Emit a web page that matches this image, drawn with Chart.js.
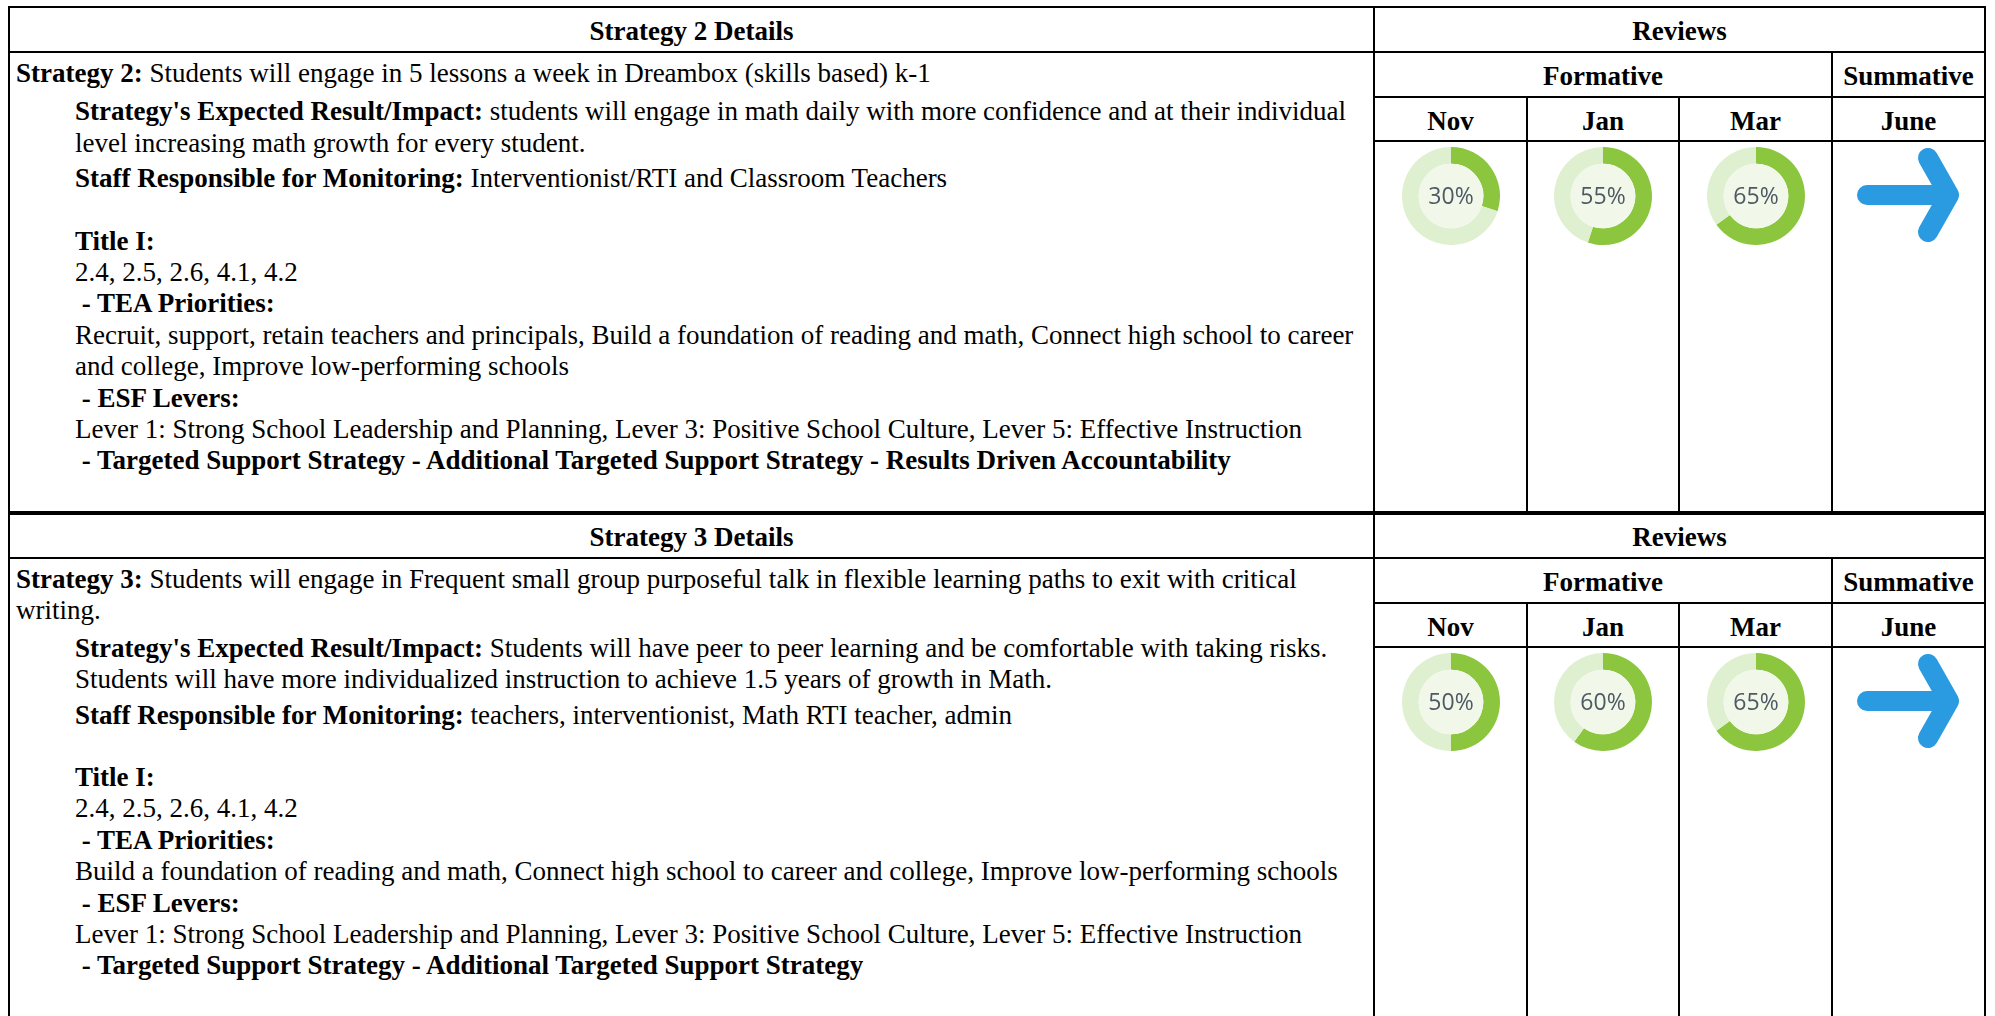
<!DOCTYPE html>
<html>
<head>
<meta charset="utf-8">
<script src="https://cdn.jsdelivr.net/npm/chart.js@4/dist/chart.umd.min.js"></script>
<style>
  html,body{margin:0;padding:0;background:#fff;}
  #root{position:relative;width:1995px;height:1016px;overflow:hidden;background:#fff;
        font-family:"Liberation Serif","Times New Roman",serif;color:#000;}
  .ln{position:absolute;background:#000;}
  .hd{position:absolute;display:flex;align-items:center;justify-content:center;box-sizing:border-box;
      padding-top:4px;font-weight:bold;font-size:27px;white-space:nowrap;}
  .body{position:absolute;font-size:27px;line-height:31.4px;white-space:nowrap;}
  .ind{margin-left:59px;}
  .donut{position:absolute;width:98px;height:98px;}
</style>
</head>
<body>
<div id="root"></div>
<script>
// ---------- data ----------
const formativeMonths = ['Nov', 'Jan', 'Mar'];
const summativeMonth = 'June';
const strategy2Progress = [30, 55, 65];
const strategy3Progress = [50, 60, 65];

const strategy2Title = 'Strategy 2 Details';
const strategy3Title = 'Strategy 3 Details';

// ---------- geometry ----------
const root = document.getElementById('root');
const L = 9, D = 1374, R = 1985;
const colX = [1374, 1527, 1679, 1832, 1985];

function hline(x1, x2, y, w) {
  const d = document.createElement('div'); d.className = 'ln';
  d.style.left = (x1 - 1) + 'px'; d.style.width = (x2 - x1 + 2) + 'px';
  d.style.top = (y - w / 2) + 'px'; d.style.height = w + 'px';
  root.appendChild(d);
}
function vline(x, y1, y2, w) {
  const d = document.createElement('div'); d.className = 'ln';
  d.style.left = (x - w / 2) + 'px'; d.style.width = w + 'px';
  d.style.top = y1 + 'px'; d.style.height = (y2 - y1) + 'px';
  root.appendChild(d);
}
function header(text, x1, x2, y1, y2) {
  const d = document.createElement('div'); d.className = 'hd';
  d.style.left = x1 + 'px'; d.style.width = (x2 - x1) + 'px';
  d.style.top = y1 + 'px'; d.style.height = (y2 - y1) + 'px';
  d.textContent = text;
  root.appendChild(d);
}

const green = '#8cc63f', lightRing = '#dff0d1', innerFill = '#f1f8ea';

const centerPlugin = {
  id: 'centerFill',
  afterDatasetsDraw(chart) {
    const arc = chart.getDatasetMeta(0).data[0];
    if (!arc) return;
    const ctx = chart.ctx;
    const p = arc.getProps(['x', 'y', 'innerRadius'], true);
    ctx.save();
    ctx.beginPath();
    ctx.arc(p.x, p.y, p.innerRadius, 0, Math.PI * 2);
    ctx.fillStyle = innerFill;
    ctx.fill();
    ctx.fillStyle = '#4f5964';
    ctx.font = '23px "Open Sans", "DejaVu Sans", sans-serif';
    ctx.textAlign = 'center';
    ctx.textBaseline = 'middle';
    ctx.fillText(chart.data.datasets[0].data[0] + '%', p.x, p.y + 1);
    ctx.restore();
  }
};

function donut(cx, cy, value) {
  const wrap = document.createElement('div'); wrap.className = 'donut';
  wrap.style.left = (cx - 49) + 'px'; wrap.style.top = (cy - 49) + 'px';
  const c = document.createElement('canvas'); c.width = 98; c.height = 98;
  wrap.appendChild(c); root.appendChild(wrap);
  new Chart(c, {
    type: 'doughnut',
    data: {
      labels: ['Progress', 'Remaining'],
      datasets: [{ data: [value, 100 - value], backgroundColor: [green, lightRing],
                   borderWidth: 0, hoverOffset: 0 }]
    },
    options: {
      responsive: false, animation: false, cutout: '66%',
      layout: { padding: 0 },
      plugins: { legend: { display: false }, tooltip: { enabled: false } }
    },
    plugins: [centerPlugin]
  });
}

function arrow(cx, cy) {
  const ns = 'http://www.w3.org/2000/svg';
  const s = document.createElementNS(ns, 'svg');
  s.setAttribute('width', 140); s.setAttribute('height', 120);
  s.style.position = 'absolute';
  s.style.left = (cx - 70) + 'px'; s.style.top = (cy - 60) + 'px';
  const p = document.createElementNS(ns, 'path');
  p.setAttribute('d', 'M 28 59 L 110 59 M 89 22 L 110 59 L 89 96');
  p.setAttribute('stroke', '#2a9be1'); p.setAttribute('stroke-width', '20');
  p.setAttribute('fill', 'none'); p.setAttribute('stroke-linecap', 'round');
  p.setAttribute('stroke-linejoin', 'round');
  s.appendChild(p); root.appendChild(s);
}

function section(top, bottom, title, progress, bodyHtml) {
  const r1 = top + 45, r2 = top + 90, r3 = top + 134;
  hline(L, R, top, top < 20 ? 2 : 4);
  hline(L, R, r1, 2);
  hline(D, R, r2, 2);
  hline(D, R, r3, 2);
  vline(L, top, bottom, 2);
  vline(D, top, bottom, 2);
  vline(R, top, bottom, 2);
  vline(colX[3], r1, bottom, 2);
  vline(colX[1], r2, bottom, 2);
  vline(colX[2], r2, bottom, 2);
  header(title, L, D, top, r1);
  header('Reviews', D, R, top, r1);
  header('Formative', D, colX[3], r1, r2);
  header('Summative', colX[3], R, r1, r2);
  formativeMonths.forEach((m, i) => header(m, colX[i], colX[i + 1], r2, r3));
  header(summativeMonth, colX[3], R, r2, r3);
  const cy = r3 + 55;
  progress.forEach((v, i) => donut((colX[i] + colX[i + 1]) / 2, cy, v));
  arrow((colX[3] + colX[4]) / 2, cy);
  const b = document.createElement('div'); b.className = 'body';
  b.style.left = '16px'; b.style.top = (r1 + 6) + 'px';
  b.innerHTML = bodyHtml;
  root.appendChild(b);
}

const body2 = `
<div><b>Strategy 2:</b> Students will engage in 5 lessons a week in Dreambox (skills based) k-1</div>
<div class="ind" style="margin-top:7px"><b>Strategy's Expected Result/Impact:</b> students will engage in math daily with more confidence and at their individual<br>level increasing math growth for every student.</div>
<div class="ind" style="margin-top:4px"><b>Staff Responsible for Monitoring:</b> Interventionist/RTI and Classroom Teachers</div>
<div class="ind" style="margin-top:31px"><b>Title I:</b></div>
<div class="ind">2.4, 2.5, 2.6, 4.1, 4.2</div>
<div class="ind"><b>&nbsp;- TEA Priorities:</b></div>
<div class="ind">Recruit, support, retain teachers and principals, Build a foundation of reading and math, Connect high school to career<br>and college, Improve low-performing schools</div>
<div class="ind"><b>&nbsp;- ESF Levers:</b></div>
<div class="ind">Lever 1: Strong School Leadership and Planning, Lever 3: Positive School Culture, Lever 5: Effective Instruction</div>
<div class="ind"><b>&nbsp;- Targeted Support Strategy - Additional Targeted Support Strategy - Results Driven Accountability</b></div>`;

const body3 = `
<div><b>Strategy 3:</b> Students will engage in Frequent small group purposeful talk in flexible learning paths to exit with critical<br>writing.</div>
<div class="ind" style="margin-top:6px"><b>Strategy's Expected Result/Impact:</b> Students will have peer to peer learning and be comfortable with taking risks.<br>Students will have more individualized instruction to achieve 1.5 years of growth in Math.</div>
<div class="ind" style="margin-top:4px"><b>Staff Responsible for Monitoring:</b> teachers, interventionist, Math RTI teacher, admin</div>
<div class="ind" style="margin-top:31px"><b>Title I:</b></div>
<div class="ind">2.4, 2.5, 2.6, 4.1, 4.2</div>
<div class="ind"><b>&nbsp;- TEA Priorities:</b></div>
<div class="ind">Build a foundation of reading and math, Connect high school to career and college, Improve low-performing schools</div>
<div class="ind"><b>&nbsp;- ESF Levers:</b></div>
<div class="ind">Lever 1: Strong School Leadership and Planning, Lever 3: Positive School Culture, Lever 5: Effective Instruction</div>
<div class="ind"><b>&nbsp;- Targeted Support Strategy - Additional Targeted Support Strategy</b></div>`;

section(7, 513, strategy2Title, strategy2Progress, body2);
section(513, 1030, strategy3Title, strategy3Progress, body3);
</script>
</body>
</html>
